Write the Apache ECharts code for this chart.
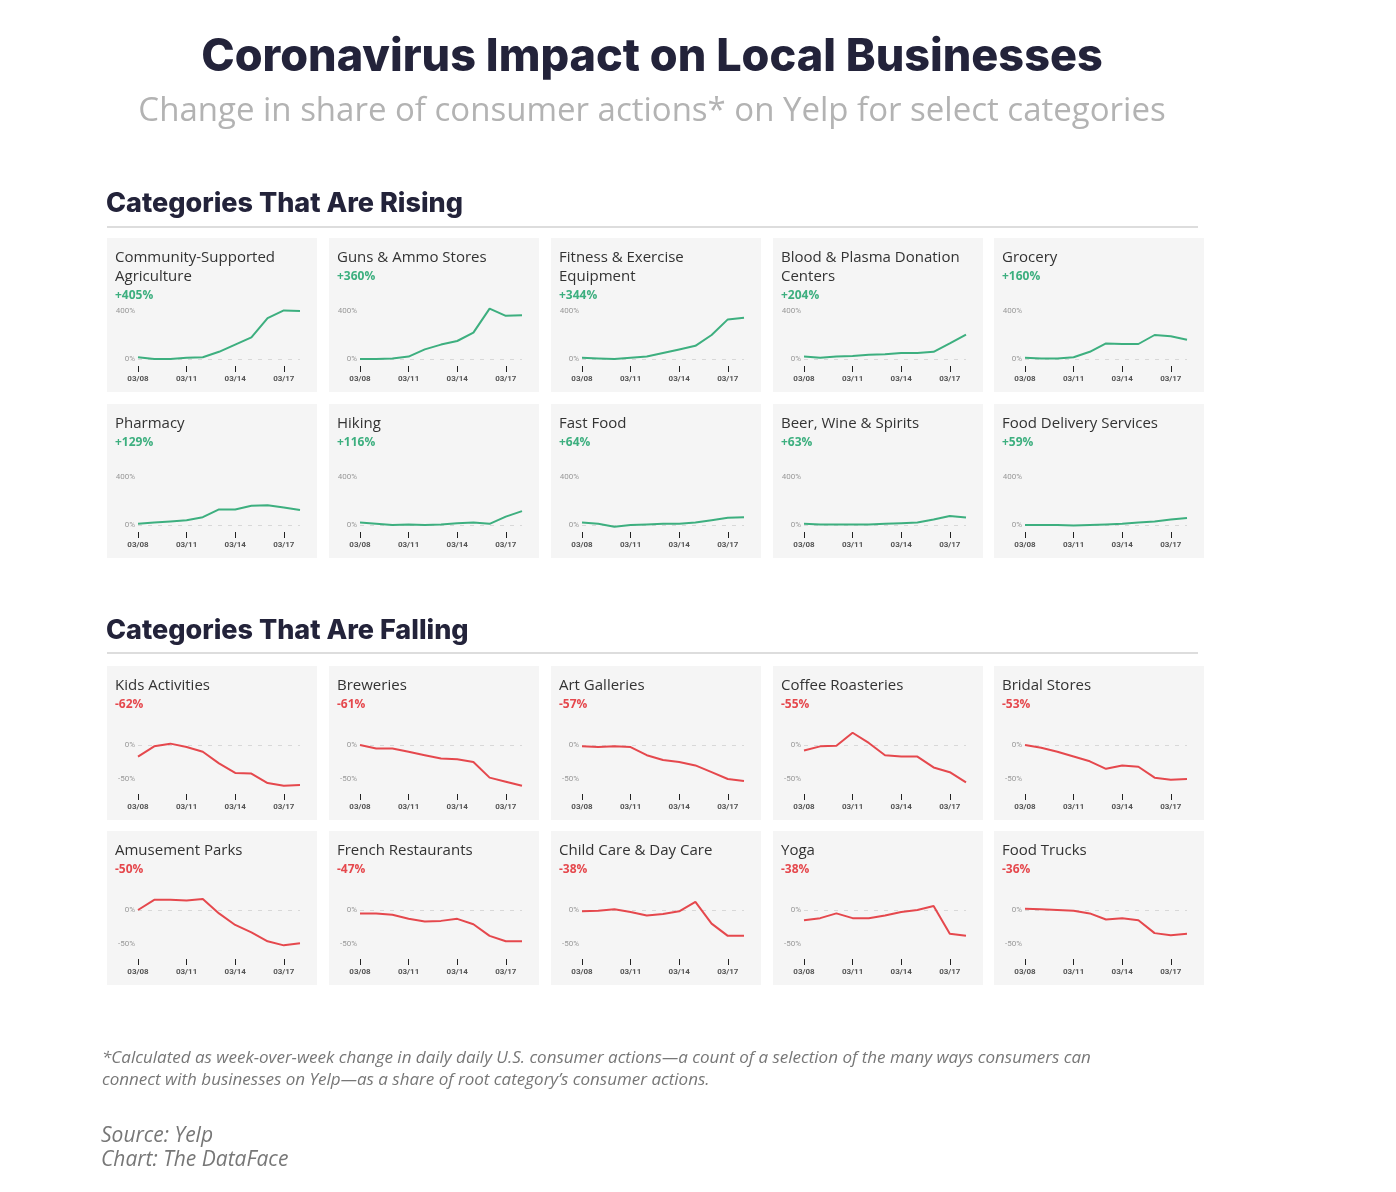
<!DOCTYPE html>
<html style="height: 100%">
<head>
<meta charset="utf-8">
<script src="https://cdn.jsdelivr.net/npm/echarts@6/dist/echarts.min.js"></script>
</head>
<body style="height: 100%; margin: 0; background-color: #fff">
<div id="container" style="width: 1396px; height: 1192px"></div>
<script type="text/javascript">
var days = ['03/08','03/09','03/10','03/11','03/12','03/13','03/14','03/15','03/16','03/17','03/18'];

// rising categories
var risingNames = ['Community-Supported\nAgriculture', 'Guns & Ammo Stores', 'Fitness & Exercise\nEquipment', 'Blood & Plasma Donation\nCenters', 'Grocery',
                   'Pharmacy', 'Hiking', 'Fast Food', 'Beer, Wine & Spirits', 'Food Delivery Services'];
var risingPct = ['+405%', '+360%', '+344%', '+204%', '+160%', '+129%', '+116%', '+64%', '+63%', '+59%'];
var csa      = [15, 0, 0, 10, 15, 60, 120, 180, 340, 405, 400];
var guns     = [0, 0, 5, 20, 80, 120, 150, 220, 420, 360, 365];
var fitness  = [10, 5, 0, 10, 20, 50, 80, 110, 200, 330, 344];
var blood    = [20, 10, 20, 25, 35, 40, 50, 50, 60, 130, 204];
var grocery  = [10, 5, 5, 15, 60, 130, 125, 125, 200, 190, 160];
var pharmacy = [10, 20, 30, 40, 65, 130, 130, 160, 165, 145, 125];
var hiking   = [20, 10, 0, 5, 0, 5, 15, 20, 10, 70, 116];
var fastFood = [20, 10, -15, 0, 5, 10, 10, 20, 40, 60, 64];
var beer     = [10, 5, 5, 5, 5, 10, 15, 20, 45, 75, 63];
var delivery = [0, 0, 0, -5, 0, 5, 10, 20, 30, 45, 59];
var risingData = [csa, guns, fitness, blood, grocery, pharmacy, hiking, fastFood, beer, delivery];

// falling categories
var fallingNames = ['Kids Activities', 'Breweries', 'Art Galleries', 'Coffee Roasteries', 'Bridal Stores',
                    'Amusement Parks', 'French Restaurants', 'Child Care & Day Care', 'Yoga', 'Food Trucks'];
var fallingPct = ['-62%', '-61%', '-57%', '-55%', '-53%', '-50%', '-47%', '-38%', '-38%', '-36%'];
var kids      = [-17, -2, 2, -3, -10, -27, -41, -42, -56, -60, -59];
var breweries = [0, -5, -5, -10, -15, -20, -21, -25, -48, -54, -60];
var art       = [-2, -3, -2, -3, -15, -22, -25, -30, -40, -50, -53];
var coffee    = [-8, -2, -1, 18, 3, -15, -17, -17, -33, -40, -55];
var bridal    = [0, -4, -10, -17, -24, -35, -30, -32, -48, -51, -50];
var amusement = [0, 15, 15, 14, 16, -5, -22, -33, -46, -52, -49];
var french    = [-5, -5, -7, -13, -17, -16, -13, -21, -38, -46, -46];
var childCare = [-2, -1, 1, -3, -8, -6, -2, 12, -20, -38, -38];
var yoga      = [-15, -12, -5, -12, -12, -8, -3, 0, 6, -35, -38];
var trucks    = [2, 1, 0, -1, -5, -14, -12, -15, -34, -37, -35];
var fallingData = [kids, breweries, art, coffee, bridal, amusement, french, childCare, yoga, trucks];

var chart = echarts.init(document.getElementById('container'));
var colX = [107, 329, 551, 773, 994];
var panelW = 210, panelH = 154;
var green = '#3daf7f', red = '#e5484d';

var graphic = [], grids = [], xAxes = [], yAxes = [], series = [];

function addPanel(idx, name, pct, data, px, py, rising) {
    var twoLines = name.indexOf('\n') >= 0;
    graphic.push({ type: 'rect', left: px, top: py, shape: { width: panelW, height: panelH }, style: { fill: '#f5f5f5' }, z: -10 });
    graphic.push({ type: 'text', left: px + 8, top: py + 10, style: { text: name, font: '15px "Open Sans"', fill: '#333', lineHeight: 19 } });
    graphic.push({ type: 'text', left: px + 8, top: py + (twoLines ? 52 : 33), style: { text: pct, font: 'bold 12px "Open Sans"', fill: rising ? green : red } });
    var gTop = rising ? py + 67 : py + 62;
    var gH = rising ? 60 : 68;
    grids.push({ left: px + 31, top: gTop, width: 162, height: gH });
    xAxes.push({
        type: 'category', gridIndex: idx, data: days, boundaryGap: false, offset: rising ? 1 : -2,
        axisLine: { show: false, onZero: false },
        axisTick: { show: true, interval: 2, length: 6, lineStyle: { color: '#222' } },
        axisLabel: { interval: 2, fontSize: 8, fontWeight: 'bold', color: '#555', margin: 9, fontFamily: 'Roboto' }
    });
    yAxes.push({
        type: 'value', gridIndex: idx,
        min: rising ? -50 : -75, max: rising ? 450 : 25,
        axisLine: { show: false }, axisTick: { show: false }, splitLine: { show: false },
        axisLabel: {
            customValues: rising ? [0, 400] : [0, -50],
            fontSize: 8, color: '#999', margin: 3, fontFamily: 'Roboto',
            formatter: function (v) { return v + '%'; }
        }
    });
    series.push({
        type: 'line', xAxisIndex: idx, yAxisIndex: idx, data: data,
        symbol: 'none', lineStyle: { color: rising ? green : red, width: 2 },
        markLine: {
            silent: true, symbol: 'none', label: { show: false },
            lineStyle: { type: [4, 6], color: '#d8d8d8', width: 1 },
            data: [{ yAxis: 0 }], z: 1
        }
    });
}

var rowYRising = [238, 404], rowYFalling = [666, 831];
for (var i = 0; i < 10; i++) {
    addPanel(i, risingNames[i], risingPct[i], risingData[i], colX[i % 5], rowYRising[Math.floor(i / 5)], true);
}
for (var j = 0; j < 10; j++) {
    addPanel(10 + j, fallingNames[j], fallingPct[j], fallingData[j], colX[j % 5], rowYFalling[Math.floor(j / 5)], false);
}

graphic.push({ type: 'text', x: 652, y: 35, style: { text: 'Coronavirus Impact on Local Businesses', font: '800 45px Inter', fill: '#23233a', align: 'center' } });
graphic.push({ type: 'text', x: 652, y: 95, style: { text: 'Change in share of consumer actions* on Yelp for select categories', font: '33px "Open Sans"', fill: '#b3b3b3', align: 'center' } });
graphic.push({ type: 'text', left: 106, top: 190, style: { text: 'Categories That Are Rising', font: '800 27px Inter', fill: '#23233a' } });
graphic.push({ type: 'rect', left: 107, top: 226, shape: { width: 1091, height: 2 }, style: { fill: '#ddd' } });
graphic.push({ type: 'text', left: 106, top: 617, style: { text: 'Categories That Are Falling', font: '800 27px Inter', fill: '#23233a' } });
graphic.push({ type: 'rect', left: 107, top: 652, shape: { width: 1091, height: 2 }, style: { fill: '#ddd' } });
graphic.push({ type: 'text', left: 102, top: 1047, style: {
    text: '*Calculated as week-over-week change in daily daily U.S. consumer actions\u2014a count of a selection of the many ways consumers can\nconnect with businesses on Yelp\u2014as a share of root category\u2019s consumer actions.',
    font: 'italic 17px "Open Sans"', fill: '#777', lineHeight: 22 } });
graphic.push({ type: 'text', left: 101, top: 1124, style: { text: 'Source: Yelp\nChart: The DataFace', font: 'italic 21px "Open Sans"', fill: '#777', lineHeight: 24 } });

chart.setOption({
    animation: false,
    graphic: graphic,
    grid: grids,
    xAxis: xAxes,
    yAxis: yAxes,
    series: series
});
</script>
</body>
</html>
